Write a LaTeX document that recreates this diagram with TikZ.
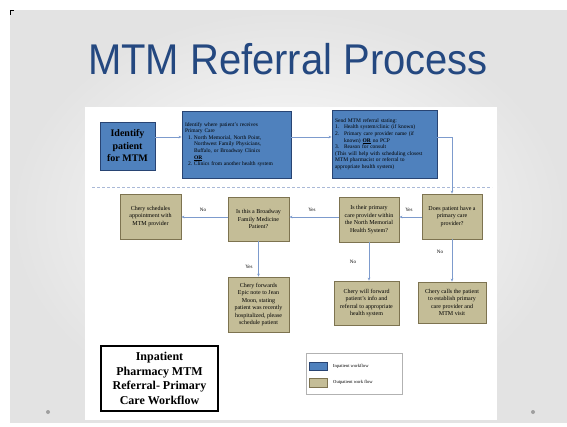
\documentclass[tikz,border=0pt]{standalone}
\usepackage{fontspec}
\usepackage{graphicx}
\setmainfont{Liberation Serif}
\newfontfamily\titlefont{Liberation Sans}
\usetikzlibrary{arrows.meta,calc}
\definecolor{ttl}{RGB}{36,72,128}
\definecolor{bfill}{RGB}{79,129,189}
\definecolor{bline}{RGB}{40,68,115}
\definecolor{tfill}{RGB}{196,189,151}
\definecolor{tline}{RGB}{125,115,80}
\definecolor{arr}{RGB}{125,155,205}
\definecolor{dsh}{RGB}{170,185,215}
\newcommand\itm[1]{\makebox[9pt][l]{#1}}
\begin{document}
\begin{tikzpicture}[x=1pt,y=-1pt,
  bluebox/.style={draw=bline, line width=0.8pt, fill=bfill, inner sep=2pt},
  tanbox/.style={draw=tline, line width=0.8pt, fill=tfill, inner sep=2pt, align=center,
    font=\fontsize{6}{7.4}\selectfont},
  conn/.style={draw=arr, line width=0.6pt, -{Stealth[length=3pt,width=2.6pt]}},
  lbl/.style={font=\fontsize{5}{6}\selectfont, inner sep=0pt},
  legtxt/.style={font=\fontsize{4.6}{5.5}\selectfont, inner sep=0pt, anchor=west}]
\useasboundingbox (0,0) rectangle (567,426);
\fill[white] (0,0) rectangle (567,426);
\shade[inner color=white, outer color=gray!22] (10,10) rectangle (567,422);
\fill[black] (10,10) rectangle (14,11);
\fill[black] (10,10) rectangle (11,15);
% title
\node[font=\titlefont\fontsize{43}{48}\selectfont, text=ttl, inner sep=0pt] (title) at (288,59)
  {\scalebox{0.93}[1]{MTM Referral Process}};
% white panel
\fill[white] (85,107) rectangle (497,420);
% dashed separator
\draw[dsh, line width=0.7pt, dash pattern=on 2.5pt off 2.5pt] (92,187) -- (492,187);
% row 1
\node[bluebox, minimum width=55pt, minimum height=48pt, align=center,
  font=\bfseries\fontsize{10}{12.5}\selectfont] (b1) at (127.5,146)
  {Identify\\patient\\for MTM};
\node[bluebox, minimum width=109pt, minimum height=67pt, text width=103pt, align=left,
  font=\fontsize{5.5}{6.6}\selectfont] (b2) at (236.5,144.5)
  {Identify where patient's receives\\
   Primary Care\\
   \hspace*{3pt}1.\ North Memorial, North Point,\\
   \hspace*{9pt}Northwest Family Physicians,\\
   \hspace*{9pt}Buffalo, or Broadway Clinics\\
   \hspace*{9pt}\underline{\textbf{OR}}\\
   \hspace*{3pt}2.\ Clinics from another health system};
\node[bluebox, minimum width=105pt, minimum height=68pt, text width=99pt, align=left,
  font=\fontsize{5.5}{6.6}\selectfont] (b3) at (384.5,144)
  {Send MTM referral stating:\\
   \itm{1.}Health system/clinic (if known)\\
   \itm{2.}Primary care provider name (if\\
   \hspace*{9pt}known) \underline{\textbf{OR}} no PCP\\
   \itm{3.}Reason for consult\\
   (This will help with scheduling closest\\
   MTM pharmacist or referral to\\
   appropriate health system)};
% row 2
\node[tanbox, minimum width=61pt, minimum height=45pt] (sched) at (150.5,216.5)
  {Chery schedules\\appointment with\\MTM provider};
\node[tanbox, minimum width=61pt, minimum height=44pt] (broad) at (258.5,219)
  {Is this a Broadway\\Family Medicine\\Patient?};
\node[tanbox, minimum width=60pt, minimum height=45pt] (within) at (369,219.5)
  {Is their primary\\care provider within\\the North Memorial\\Health System?};
\node[tanbox, minimum width=60pt, minimum height=45pt] (does) at (452,216.5)
  {Does patient have a\\primary care\\provider?};
% row 3
\node[tanbox, minimum width=61pt, minimum height=55pt] (fwd) at (258.5,304.5)
  {Chery forwards\\Epic note to Jean\\Moon, stating\\patient was recently\\hospitalized, please\\schedule patient};
\node[tanbox, minimum width=65pt, minimum height=44pt] (will) at (366.5,303)
  {Chery will forward\\patient's info and\\referral to appropriate\\health system};
\node[tanbox, minimum width=68pt, minimum height=41pt] (calls) at (452,302.5)
  {Chery calls the patient\\to establish primary\\care provider and\\MTM visit};
% connectors
\draw[conn] (b1.east |- 0,137) -- (b2.west |- 0,137);
\draw[conn] (b2.east |- 0,137) -- (b3.west |- 0,137);
\draw[conn] (b3.east |- 0,137) -| (does.north);
\draw[conn] (does.west |- 0,217) -- (within.east |- 0,217);
\draw[conn] (within.west |- 0,217) -- (broad.east |- 0,217);
\draw[conn] (broad.west |- 0,217) -- (sched.east |- 0,217);
\draw[conn] (broad.south) -- (fwd.north);
\draw[conn] (within.south) -- (within.south |- will.north);
\draw[conn] (does.south) -- (calls.north);
% labels
\node[lbl] (l1) at (409,210) {Yes};
\node[lbl] (l2) at (312,210) {Yes};
\node[lbl] (l3) at (203,210) {No};
\node[lbl] (l4) at (249,267) {Yes};
\node[lbl] (l5) at (353,262) {No};
\node[lbl] (l6) at (440,252) {No};
% title box
\node[draw=black, line width=2pt, fill=white, minimum width=117pt, minimum height=65pt,
  align=center, font=\bfseries\fontsize{12}{14.5}\selectfont] (ttlbox) at (159.5,378.5)
  {Inpatient\\Pharmacy MTM\\Referral- Primary\\Care Workflow};
% legend
\draw[gray!60, line width=0.5pt, fill=white] (306,353) rectangle (402,394);
\draw[bline, line width=0.5pt, fill=bfill] (309,362) rectangle (327,370);
\draw[tline, line width=0.5pt, fill=tfill] (309,378) rectangle (327,387);
\node[legtxt] (lg1) at (333,366) {Inpatient workflow};
\node[legtxt] (lg2) at (333,382.5) {Outpatient work flow};
% slide dots
\fill[gray!75] (48,412) circle (2pt);
\fill[gray!75] (533,412) circle (2pt);
\end{tikzpicture}
\end{document}
